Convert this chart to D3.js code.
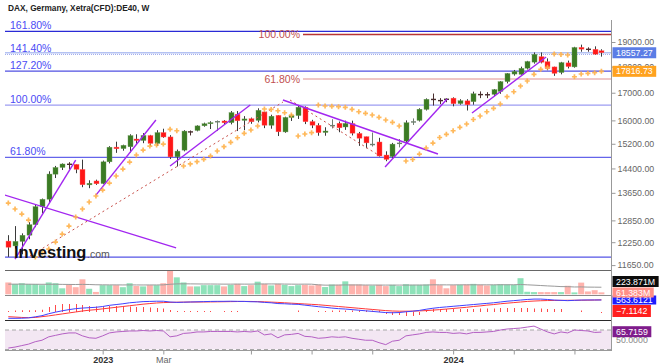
<!DOCTYPE html>
<html>
<head>
<meta charset="utf-8">
<script src="https://cdn.jsdelivr.net/npm/d3@7"></script>
<style>
  body { margin: 0; background: #fff; }
  svg { display: block; }
  text { font-family: "Liberation Sans", Arial, sans-serif; }
</style>
</head>
<body>
<svg id="chart" width="659" height="364"></svg>
<script>
//Data
const START = new Date(2022, 8, 26); // first weekly candle
const OPEN  = [12280,12150,12270,12440,12730,13240,13460,14220,14430,14540,14530,14370,13890,14010,13930,14610,15090,15040,15100,15360,15310,15480,15210,15580,15430,14770,14990,15610,15650,15810,15880,15950,15980,15920,16220,16000,16060,16000,16300,15830,16180,15600,16100,16170,16470,15960,15830,15580,15800,15900,15770,15890,15550,15440,15170,15260,14830,14780,15200,15290,15930,16000,16390,16760,16720,16770,16800,16600,16700,16670,16950,16930,16940,17050,17420,17710,17700,17940,18180,18400,18200,17990,17770,18150,17990,18780,18710,18700,18640];
const HIGH  = [12440,12690,12490,12800,13300,13480,14310,14480,14560,14600,14530,14680,14030,14050,14650,15120,15270,15170,15520,15520,15560,15500,15660,15710,15490,15010,15660,15650,15830,15920,15970,16000,16010,16330,16330,16150,16100,16430,16310,16200,16190,16130,16230,16530,16500,16020,15900,15760,16040,15960,15990,15990,15600,15440,15580,15400,14950,15230,15360,16000,16070,16430,16790,16970,16800,16790,16830,16760,16760,17040,17050,17020,17140,17440,17750,17870,18000,18230,18570,18570,18330,18000,18190,18240,18800,18890,18780,18820,18700];
const LOW   = [11862,12080,11930,12330,12660,13050,13360,14100,14350,14370,14250,13820,13790,13890,13910,14560,14900,14970,14910,15200,15220,15130,15130,15400,14700,14460,14950,15480,15620,15780,15700,15630,15860,15860,15630,15660,15880,15930,15730,15710,15460,15570,15980,16050,15870,15730,15470,15470,15720,15590,15670,15480,15130,15050,15110,14780,14630,14720,15080,15200,15840,15960,16350,16530,16580,16650,16500,16560,16350,16560,16800,16800,16870,16960,17350,17650,17680,17890,18120,18130,17860,17640,17700,17930,17960,18600,18600,18470,18400];
const CLOSE = [12114,12273,12438,12730,13243,13459,14224,14431,14541,14529,14370,13893,13940,13923,14610,15087,15033,15150,15476,15307,15482,15210,15578,15427,14768,14957,15629,15598,15808,15882,15922,15961,15914,16275,15984,16051,15950,16358,15830,16148,15603,16105,16177,16470,15952,15832,15574,15632,15840,15740,15894,15557,15386,15229,15187,14798,14687,15189,15234,15919,15967,16397,16759,16751,16706,16752,16594,16705,16555,16961,16918,16926,17117,17419,17735,17815,17936,18206,18492,18175,17930,17737,18161,18002,18773,18704,18693,18498,18557.27];

// parabolic SAR dots
const SAR = [13348,13175,13030,12859,11858,11963,12067,12253,12470,12692,12945,13175,13378,13555,13733,13946,14163,14381,14603,14830,14993,15125,15159,15191,15690,15641,14478,14542,14614,14691,14797,14961,15103,15248,15403,15554,15666,15804,16405,16390,16342,16270,16190,15462,15529,15573,16549,16513,16500,16487,16465,16393,16306,16249,16190,16108,16013,15932,15804,14636,14685,14862,15060,15225,15411,15519,15641,15759,15873,16031,16154,16306,16429,16585,16852,17037,17252,17442,17700,17897,17975,18507,18490,18466,17607,17712,17740,17763,17816.73];

// volume (millions) and its moving average
const VOLUME = [375,325,350,325,325,290,375,350,190,300,225,475,175,75,290,290,290,225,350,262,250,290,290,350,750,537,375,250,250,290,290,290,250,300,330,260,290,400,330,280,330,300,260,290,300,280,310,230,310,300,410,310,310,290,280,300,260,300,260,320,300,300,310,475,290,190,290,300,310,330,300,280,300,320,310,300,510,80,70,70,70,70,70,270,60,370,90,130,61.383];
const VOL_MA = [320,322,322,320,318,316,318,318,314,312,310,314,310,302,300,298,298,296,298,296,295,296,296,298,318,330,332,330,328,326,326,324,322,322,324,322,322,326,328,328,328,324,322,320,322,320,300,290,290,294,296,296,296,294,294,292,292,292,292,292,294,294,294,300,300,298,298,300,300,300,300,300,300,302,302,302,310,300,290,278,266,256,244,242,232,234,228,226,223.871];

// MACD
const MACD = [-374,-376,-370,-350,-300,-240,-140,-60,10,70,120,150,170,190,230,290,330,370,420,450,480,490,500,500,460,440,450,460,470,480,490,495,495,500,495,490,475,470,440,420,380,370,350,340,300,260,220,190,150,120,100,70,40,10,-20,-50,-80,-90,-80,-40,-10,30,90,140,180,210,240,270,300,330,360,390,420,460,500,530,560,590,610,610,590,560,545,530,545,560,565,565,563.6121];
const SIGNAL = [-292,-310,-330,-343,-330,-290,-250,-200,-150,-100,-50,0,40,70,110,150,190,230,270,310,350,380,410,430,440,450,455,460,460,462,465,470,475,480,485,490,488,480,470,455,440,420,400,380,360,340,320,290,260,230,200,170,140,110,80,50,20,0,-10,-10,-5,5,20,45,70,100,130,160,190,230,260,300,330,370,400,430,460,490,510,525,535,540,545,548,550,552,555,560,570.7];
const HIST = [20,30,35,35,35,45,100,140,160,160,160,140,120,110,110,120,120,110,110,100,100,90,80,70,40,20,20,20,20,20,20,0,20,20,20,0,0,0,0,0,0,0,0,30,0,0,20,20,30,30,30,30,30,30,30,30,-40,-60,-60,-80,-80,-60,40,60,60,60,60,60,60,60,70,70,70,80,80,80,80,80,70,70,60,60,60,0,0,30,0,0,-7.1142];

// RSI
const RSI = [33,35,38,41,46,49,56,59,62,64,64,58,54,53,58,64,66,67,68,68,69,68,69,68,56,58,63,64,66,66,67,67,67,67,66,67,66,68,60,62,54,60,61,63,57,56,53,54,56,55,56,53,51,49,49,44,40,47,49,58,60,62,65,66,65,65,63,64,62,65,65,66,67,70,72,73,74,76,78,72,66,62,66,64,70,69,68,65,65.7159];

// Fibonacci levels (price, label)
const FIB_BLUE_PRICES = [11858, 14755, 16545, 17824, 18490, 19446];
const FIB_BLUE_LABELS = ['', '61.80%', '100.00%', '127.20%', '141.40%', '161.80%'];
const FIB_BLUE_COLORS = ['#5555e6', '#6464ea', '#9c9cf2', '#5050e2', '#9aa6ee', '#2a2ad6'];
const FIB_RED_PRICES = [19315, 17519];
const FIB_RED_LABELS = ['100.00%', '61.80%'];
const FIB_RED_COLORS = ['#b83434', '#eab4b4'];

// drawn trend lines: [week index, price] pairs
const PURPLE_LINES = [
  [[-0.5, 13583], [24.9, 12100]],
  [[1.0, 11805], [10.0, 14668]],
  [[13.0, 13583], [21.9, 16013]],
  [[24.0, 14478], [35.9, 16549]],
  [[40.75, 16731], [63.75, 14862]],
  [[55.9, 14446], [65.1, 16768]],
  [[68.8, 16260], [79.8, 18384]]
];
const DASHED_LINES = [
  [[3.2, 11883], [40.75, 16657]],
  [[41.8, 16731], [55.15, 14798]]
];

const PRICE_TICKS = [19000, 18000, 17000, 16000, 15200, 14400, 13650, 12850, 12250, 11650];
const TIME_TICKS = [new Date(2023,0,2), new Date(2023,2,6), new Date(2023,5,5), new Date(2023,7,7), new Date(2023,9,9), new Date(2024,0,1), new Date(2024,2,4), new Date(2024,4,6)];
const TIME_LABELS = ['2023', 'Mar', '', '', '', '2024', '', ''];

//Scales
const WEEK = 7 * 864e5;
const at = i => new Date(START.getTime() + i * WEEK);
const N = CLOSE.length;

const x = d3.scaleTime().domain([at(0), at(N - 1)]).range([8.3, 601.4]);
const y = d3.scaleLog().domain([11650, 19000]).range([265.1, 42]);
const volY = d3.scaleLinear().domain([0, 760]).range([294.3, 270.3]);
const macdY = d3.scaleLinear().domain([-461, 768]).range([320, 296]);
const histY = d3.scaleLinear().domain([-200, 200]).range([322, 302]);
const rsiY = d3.scaleLinear().domain([30, 70]).range([349.5, 330]);

const L = 5, R = 611.5; // plot left / right edge

const svg = d3.select('#chart');
const defs = svg.append('defs');
defs.append('clipPath').attr('id', 'main-clip')
  .append('rect').attr('x', L).attr('y', 0).attr('width', R - L).attr('height', 270);

//Main panel
const main = svg.append('g').attr('clip-path', 'url(#main-clip)');

// blue fib levels
FIB_BLUE_PRICES.forEach((p, i) => {
  main.append('line')
    .attr('x1', L).attr('x2', R)
    .attr('y1', y(p)).attr('y2', y(p))
    .attr('stroke', FIB_BLUE_COLORS[i])
    .attr('stroke-width', i === 4 ? 1 : 1.2)
    .attr('stroke-dasharray', i === 4 ? '1,1' : null);
  if (FIB_BLUE_LABELS[i]) {
    main.append('text')
      .attr('x', 10).attr('y', y(p) - 2)
      .attr('font-size', 10.5)
      .attr('fill', '#4b4bf5')
      .text(FIB_BLUE_LABELS[i]);
  }
});

// red fib levels
FIB_RED_PRICES.forEach((p, i) => {
  main.append('line')
    .attr('x1', 303).attr('x2', R)
    .attr('y1', y(p)).attr('y2', y(p))
    .attr('stroke', FIB_RED_COLORS[i])
    .attr('stroke-width', 1.3);
  main.append('text')
    .attr('x', 300).attr('y', y(p))
    .attr('dy', '0.35em')
    .attr('text-anchor', 'end')
    .attr('font-size', 10.5)
    .attr('fill', '#bf5050')
    .text(FIB_RED_LABELS[i]);
});

// last price line
main.append('line')
  .attr('x1', L).attr('x2', R)
  .attr('y1', y(CLOSE[N - 1])).attr('y2', y(CLOSE[N - 1]))
  .attr('stroke', '#b4c2f2').attr('stroke-width', 1.6);

// candles
const UP = '#3b7b24', DOWN = '#ff1717';
CLOSE.forEach((c, i) => {
  const o = OPEN[i];
  const cx = Math.round(x(at(i))) + 0.5;
  const up = c >= o;
  const top = y(Math.max(o, c)), bot = y(Math.min(o, c));
  const doji = bot - top < 1.2;
  main.append('line')
    .attr('x1', cx).attr('x2', cx)
    .attr('y1', y(HIGH[i])).attr('y2', y(LOW[i]))
    .attr('stroke', doji ? (up ? '#6f7f6f' : '#4a2f2f') : '#3a3a3a')
    .attr('stroke-width', 1);
  if (doji) {
    main.append('rect')
      .attr('x', cx - 2.5).attr('y', (top + bot) / 2 - 0.6)
      .attr('width', 5).attr('height', 1.4)
      .attr('fill', up ? '#6f7f6f' : '#4a2f2f');
  } else {
    main.append('rect')
      .attr('x', cx - 2.5).attr('y', top)
      .attr('width', 5).attr('height', bot - top)
      .attr('fill', up ? UP : DOWN)
      .attr('stroke', up ? '#6f9c5c' : '#ff6b6b')
      .attr('stroke-width', 0.4);
  }
});

// dashed trend lines
DASHED_LINES.forEach(seg => {
  main.append('line')
    .attr('x1', x(at(seg[0][0]))).attr('y1', y(seg[0][1]))
    .attr('x2', x(at(seg[1][0]))).attr('y2', y(seg[1][1]))
    .attr('stroke', '#c8504a').attr('stroke-width', 1)
    .attr('stroke-dasharray', '2,3');
});

// purple trend lines
PURPLE_LINES.forEach(seg => {
  main.append('line')
    .attr('x1', x(at(seg[0][0]))).attr('y1', y(seg[0][1]))
    .attr('x2', x(at(seg[1][0]))).attr('y2', y(seg[1][1]))
    .attr('stroke', '#a226f0').attr('stroke-width', 1.4);
});

// parabolic SAR crosses
SAR.forEach((s, i) => {
  const cx = x(at(i)), cy = y(s);
  main.append('path')
    .attr('d', `M${cx - 2.5},${cy}H${cx + 2.5}M${cx},${cy - 2.5}V${cy + 2.5}`)
    .attr('stroke', '#ffb24a').attr('stroke-width', 1.7)
    .attr('opacity', 0.9);
});

// watermark
main.append('text')
  .attr('x', 14).attr('y', 258)
  .attr('font-size', 16.5).attr('font-weight', 'bold')
  .attr('fill', '#111')
  .text('Investing');
main.append('text')
  .attr('x', 87).attr('y', 258)
  .attr('font-size', 10.5)
  .attr('fill', '#555')
  .text('.com');

// title
svg.append('text')
  .attr('x', 8).attr('y', 10.5)
  .attr('font-size', 8.3).attr('font-weight', 'bold')
  .attr('fill', '#222')
  .text('DAX, Germany, Xetra(CFD):DE40, W');

//Volume panel
const volG = svg.append('g');
VOLUME.forEach((v, i) => {
  volG.append('rect')
    .attr('x', x(at(i)) - 3).attr('y', volY(v))
    .attr('width', 6).attr('height', volY(0) - volY(v))
    .attr('fill', CLOSE[i] >= OPEN[i] ? '#8ee2b9' : '#ffb3ad');
});
volG.append('path')
  .datum(VOL_MA)
  .attr('fill', 'none').attr('stroke', '#9a9a9a').attr('stroke-width', 1)
  .attr('d', d3.line().x((d, i) => x(at(i))).y(d => volY(d)));

//MACD panel
const macdG = svg.append('g');
HIST.forEach((h, i) => {
  if (h === 0) return;
  macdG.append('line')
    .attr('x1', Math.round(x(at(i))) + 0.5).attr('x2', Math.round(x(at(i))) + 0.5)
    .attr('y1', histY(0)).attr('y2', Math.abs(histY(h) - histY(0)) < 1 ? histY(0) + (h > 0 ? -1 : 1) : histY(h))
    .attr('stroke', '#ff4a4a').attr('stroke-width', 1);
});
macdG.append('path')
  .datum(SIGNAL)
  .attr('fill', 'none').attr('stroke', '#ff3838').attr('stroke-width', 1)
  .attr('d', d3.line().x((d, i) => x(at(i))).y(d => macdY(d)));
macdG.append('path')
  .datum(MACD)
  .attr('fill', 'none').attr('stroke', '#4040ff').attr('stroke-width', 1)
  .attr('d', d3.line().x((d, i) => x(at(i))).y(d => macdY(d)));

//RSI panel
const rsiG = svg.append('g');
rsiG.append('rect')
  .attr('x', L).attr('y', rsiY(70))
  .attr('width', R - L).attr('height', rsiY(30) - rsiY(70))
  .attr('fill', '#f3e7f3');
[70, 30].forEach(v => {
  rsiG.append('line')
    .attr('x1', L).attr('x2', R)
    .attr('y1', rsiY(v)).attr('y2', rsiY(v))
    .attr('stroke', '#a8a8a8').attr('stroke-dasharray', '4,3');
});
rsiG.append('path')
  .datum(RSI)
  .attr('fill', 'none').attr('stroke', '#b460c4').attr('stroke-width', 1)
  .attr('d', d3.line().x((d, i) => x(at(i))).y(d => rsiY(d)));

//Frame + separators
[[270.5, '#666'], [295.5, '#8a8a8a'], [320.5, '#2a2a2a'], [350.5, '#999']].forEach(([yy, col]) => {
  svg.append('line')
    .attr('x1', L).attr('x2', R)
    .attr('y1', yy).attr('y2', yy)
    .attr('stroke', col).attr('stroke-width', 1.2);
});
svg.append('line')
  .attr('x1', R).attr('x2', R)
  .attr('y1', 20).attr('y2', 351)
  .attr('stroke', '#999');

//Axes
const yAxis = svg.append('g')
  .attr('transform', `translate(${R},0)`)
  .call(d3.axisRight(y).tickValues(PRICE_TICKS).tickFormat(d3.format('.2f')).tickSize(4).tickPadding(2));
yAxis.select('.domain').remove();
yAxis.selectAll('line').attr('stroke', '#999');
yAxis.selectAll('text').attr('font-size', 8.8).attr('fill', '#666').attr('font-family', '"Liberation Sans", Arial, sans-serif');

const xAxis = svg.append('g')
  .attr('transform', 'translate(0,350.5)')
  .call(d3.axisBottom(x).tickValues(TIME_TICKS).tickFormat((d, i) => TIME_LABELS[i]).tickSize(4).tickPadding(1.7));
xAxis.select('.domain').remove();
xAxis.selectAll('line').attr('stroke', '#999');
xAxis.selectAll('text')
  .attr('font-size', 9)
  .attr('font-family', '"Liberation Sans", Arial, sans-serif')
  .attr('font-weight', (d, i) => /^\d+$/.test(TIME_LABELS[i]) ? 'bold' : 'normal')
  .attr('fill', (d, i) => /^\d+$/.test(TIME_LABELS[i]) ? '#333' : '#666');

//Value tags on the right
const tag = (cy, txt, bg, h = 11) => {
  const g = svg.append('g');
  const r = g.append('rect').attr('x', R + 1).attr('y', cy - h / 2).attr('height', h).attr('fill', bg);
  const t = g.append('text')
    .attr('x', R + 4.5).attr('y', cy).attr('dy', '0.35em')
    .attr('font-size', 8.8).attr('fill', '#fff')
    .text(txt);
  r.attr('width', t.node().getComputedTextLength() + 7);
};
tag(y(CLOSE[N - 1]), d3.format('.2f')(CLOSE[N - 1]), '#5b7de6');
tag(y(SAR[N - 1]), d3.format('.2f')(SAR[N - 1]), '#ffa21f');
tag(281.5, '223.871M', '#0c0c0c');
tag(300, d3.format('.4f')(MACD[N - 1]), '#1c1cff', 9);
tag(292.5, '61.383M', '#ff8f86', 10);
tag(311, d3.format('.4f')(HIST[N - 1]), '#ff1e1e', 12);
svg.append('text')
  .attr('x', R + 4.5).attr('y', rsiY(50)).attr('dy', '0.35em')
  .attr('font-size', 8.8).attr('fill', '#888')
  .text('50.0000');
tag(331.7, d3.format('.4f')(RSI[N - 1]), '#7f1c8c');
</script>
</body>
</html>
